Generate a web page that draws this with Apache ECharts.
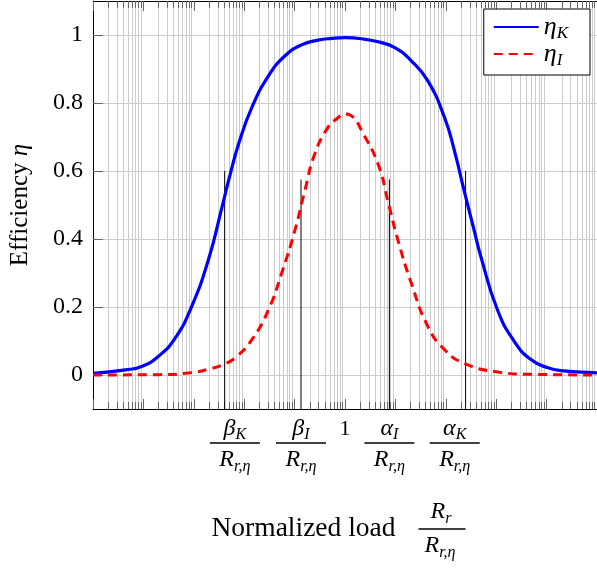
<!DOCTYPE html>
<html><head><meta charset="utf-8">
<script src="https://cdn.jsdelivr.net/npm/echarts@6/dist/echarts.min.js"></script>
<style>html,body{margin:0;padding:0;background:#fff}#c{width:597px;height:568px}</style>
</head><body><div id="c"></div>
<script>
// Normalized load R_r / R_{r,eta} and efficiencies
const loadK = [1e-5, 4.4e-5, 9.5e-5, 2.02e-4, 4.3e-4, 9.1e-4, 1.95e-3, 3.58e-3, 4.92e-3, 7.76e-3, 0.0142, 0.0303, 0.0647, 0.137, 0.293, 0.55, 1, 2.13, 4.54, 9.7, 20.7, 44, 94, 148, 233, 366, 497, 1057, 2254, 4808, 10233, 21827, 85310, 1e5];
const etaK  = [0.005, 0.015, 0.026, 0.056, 0.109, 0.202, 0.339, 0.490, 0.573, 0.680, 0.787, 0.880, 0.939, 0.971, 0.985, 0.990, 0.992, 0.989, 0.980, 0.963, 0.924, 0.865, 0.758, 0.660, 0.540, 0.425, 0.348, 0.192, 0.100, 0.046, 0.022, 0.012, 0.007, 0.006];
const loadI = [1e-5, 2.02e-4, 9.1e-4, 1.95e-3, 3.58e-3, 6.67e-3, 0.0142, 0.0303, 0.0555, 0.1016, 0.160, 0.252, 0.462, 0.676, 1, 1.46, 2.13, 4.54, 7.14, 11.2, 20.7, 44, 94, 233, 1057, 4808, 1e5];
const etaI  = [0, 0.001, 0.007, 0.017, 0.029, 0.051, 0.104, 0.192, 0.300, 0.426, 0.543, 0.651, 0.729, 0.753, 0.768, 0.758, 0.719, 0.620, 0.510, 0.397, 0.270, 0.143, 0.075, 0.034, 0.009, 0.002, 0];

// vertical marker lines (beta_K, beta_I, alpha_I, alpha_K)
const markerLoads   = [0.0041, 0.134, 7.6, 247];
const markerHeights = [0.6, 0.575, 0.575, 0.6];

// x tick labels
const xLabelValues = [0.00653, 0.134, 1, 7.6, 150];
const xLabelTexts  = [
  '{g|β}{s|K}\n{bar| }\n{R|R}{s2|r,η}',
  '{g|β}{s|I}\n{bar| }\n{R|R}{s2|r,η}',
  '{n|1}',
  '{g|α}{s|I}\n{bar| }\n{R|R}{s2|r,η}',
  '{g|α}{s|K}\n{bar| }\n{R|R}{s2|r,η}'
];
// y ticks
const yTickValues = [0, 0.2, 0.4, 0.6, 0.8, 1];
const yTickLabels = ['0', '0.2', '0.4', '0.6', '0.8', '1'];

const seriesNames = ['ηK', 'ηI'];
const legendTexts = ['{g|η}{s|K}', '{g|η}{s|I}'];

// log grid positions
const majorVals = [], minorVals = [];
for (let n = -5; n <= 5; n++) {
  majorVals.push(Number(Math.pow(10, n).toPrecision(3)));
  if (n < 5) for (let k = 2; k <= 9; k++) minorVals.push(Number((k * Math.pow(10, n)).toPrecision(3)));
}
const allVals = majorVals.concat(minorVals);

function xLabelFor(v) {
  let best = -1, bestD = Infinity;
  const lv = Math.log10(v);
  xLabelValues.forEach((x, i) => {
    const d = Math.abs(Math.log10(x) - lv);
    if (d < bestD) { bestD = d; best = i; }
  });
  return best >= 0 && bestD < 0.05 ? xLabelTexts[best] : '';
}

const SERIF = '"Liberation Serif", "Times New Roman", serif';
const fracRich = {
  g:  {fontFamily: SERIF, fontStyle: 'italic', fontSize: 24, lineHeight: 22, color: '#000'},
  s:  {fontFamily: SERIF, fontStyle: 'italic', fontSize: 16, lineHeight: 22, height: 10, verticalAlign: 'bottom', color: '#000'},
  bar:{width: 50, height: 1.3, lineHeight: 6, fontSize: 1, backgroundColor: '#000'},
  R:  {fontFamily: SERIF, fontStyle: 'italic', fontSize: 24, lineHeight: 28, color: '#000'},
  s2: {fontFamily: SERIF, fontStyle: 'italic', fontSize: 16, lineHeight: 28, height: 14, verticalAlign: 'bottom', color: '#000'},
  n:  {fontFamily: SERIF, fontSize: 22, lineHeight: 22, color: '#000'}
};

const chart = echarts.init(document.getElementById('c'), null, {renderer: 'canvas'});

const markerSeries = markerLoads.map((x, i) => ({
  type: 'line', name: 'marker' + i, xAxisIndex: 0, yAxisIndex: 0,
  data: [[x, -0.1], [x, markerHeights[i]]],
  symbol: 'none', lineStyle: {color: '#000', width: 1}, silent: true, z: 3
}));

const xBase = {type: 'log', logBase: 10, min: 1e-5, max: 1e5, gridIndex: 0};

chart.setOption({
  animation: false,
  backgroundColor: '#fff',
  grid: {left: 93, right: -3.5, top: 1, bottom: 159, containLabel: false},
  legend: {
    data: seriesNames, orient: 'vertical', right: 7, top: 9,
    backgroundColor: '#fff', borderColor: '#000', borderWidth: 1,
    padding: [5, 22, 6, 9], itemGap: -1, itemWidth: 45, itemHeight: 2,
    formatter: name => legendTexts[seriesNames.indexOf(name)],
    textStyle: {lineHeight: 17, rich: {
      g: {fontFamily: SERIF, fontStyle: 'italic', fontSize: 26, lineHeight: 17, color: '#000'},
      s: {fontFamily: SERIF, fontStyle: 'italic', fontSize: 17, lineHeight: 17, height: 4, verticalAlign: 'bottom', color: '#000'}
    }}
  },
  xAxis: [
    Object.assign({}, xBase, {
      position: 'bottom',
      axisLine: {show: true, onZero: false, lineStyle: {color: '#000', width: 1}},
      axisTick: {show: true, inside: true, length: 7, customValues: minorVals, lineStyle: {color: '#666'}},
      splitLine: {show: true, customValues: allVals, lineStyle: {color: '#cccccc', width: 1}},
      axisLabel: {
        customValues: xLabelValues, margin: 9, verticalAlign: 'top', hideOverlap: false,
        formatter: v => xLabelFor(v), rich: fracRich
      },
      name: '{sp1| }{R|R}{s|r}\n{t|Normalized load}{bar| }\n{sp2| }{R|R}{s2|r,η}',
      nameLocation: 'middle', nameGap: 90,
      nameTextStyle: {verticalAlign: 'top', align: 'center', padding: [0, 13, 0, 0], rich: {
        sp1: {width: 219, align: 'left', fontSize: 1, lineHeight: 26},
        sp2: {width: 213, align: 'left', fontSize: 1, lineHeight: 26},
        R:   {fontFamily: SERIF, fontStyle: 'italic', fontSize: 24, lineHeight: 26, align: 'left', color: '#000'},
        s:   {fontFamily: SERIF, fontStyle: 'italic', fontSize: 16, lineHeight: 26, height: 12, verticalAlign: 'bottom', align: 'left', color: '#000'},
        s2:  {fontFamily: SERIF, fontStyle: 'italic', fontSize: 16, lineHeight: 26, height: 12, verticalAlign: 'bottom', align: 'left', color: '#000'},
        t:   {fontFamily: SERIF, fontSize: 27.5, lineHeight: 8, height: 8, width: 207, align: 'left', color: '#000'},
        bar: {width: 47, height: 1.3, lineHeight: 8, fontSize: 1, backgroundColor: '#000', align: 'left'}
      }}
    }),
    Object.assign({}, xBase, {
      position: 'bottom', axisLine: {show: false, onZero: false},
      axisTick: {show: true, inside: true, length: 10, customValues: majorVals, lineStyle: {color: '#666'}},
      axisLabel: {show: false}, splitLine: {show: false}
    }),
    Object.assign({}, xBase, {
      position: 'top', axisLine: {show: true, onZero: false, lineStyle: {color: '#000', width: 1}},
      axisTick: {show: true, inside: true, length: 7, customValues: minorVals, lineStyle: {color: '#666'}},
      axisLabel: {show: false}, splitLine: {show: false}
    }),
    Object.assign({}, xBase, {
      position: 'top', axisLine: {show: false, onZero: false},
      axisTick: {show: true, inside: true, length: 10, customValues: majorVals, lineStyle: {color: '#666'}},
      axisLabel: {show: false}, splitLine: {show: false}
    })
  ],
  yAxis: [{
    type: 'value', min: -0.1, max: 1.1, position: 'left',
    axisLine: {show: true, onZero: false, lineStyle: {color: '#000', width: 1}},
    axisTick: {show: true, inside: true, length: 10, customValues: yTickValues, lineStyle: {color: '#666'}},
    axisLabel: {
      customValues: yTickValues, margin: 10, color: '#000',
      fontFamily: SERIF, fontSize: 24,
      formatter: v => yTickLabels[yTickValues.indexOf(Math.round(v * 10) / 10)]
    },
    splitLine: {show: true, customValues: yTickValues, lineStyle: {color: '#cccccc', width: 1}},
    name: 'Efficiency {i|η}', nameLocation: 'middle', nameGap: 60,
    nameTextStyle: {fontFamily: SERIF, fontSize: 25, color: '#000', rich: {
      i: {fontFamily: SERIF, fontStyle: 'italic', fontSize: 25, color: '#000'}
    }}
  }],
  series: markerSeries.concat([
    {
      type: 'line', name: seriesNames[0], xAxisIndex: 0, yAxisIndex: 0,
      data: loadK.map((x, i) => [x, etaK[i]]),
      symbol: 'none', smooth: 0.5, lineStyle: {color: '#0000ff', width: 3.2}, itemStyle: {color: '#0000ff'}, z: 5
    },
    {
      type: 'line', name: seriesNames[1], xAxisIndex: 0, yAxisIndex: 0,
      data: loadI.map((x, i) => [x, etaI[i]]),
      symbol: 'none', smooth: 0.5, lineStyle: {color: '#ff0000', width: 3, type: [9, 6]}, itemStyle: {color: '#ff0000'}, z: 6
    }
  ])
});
</script>
</body></html>
